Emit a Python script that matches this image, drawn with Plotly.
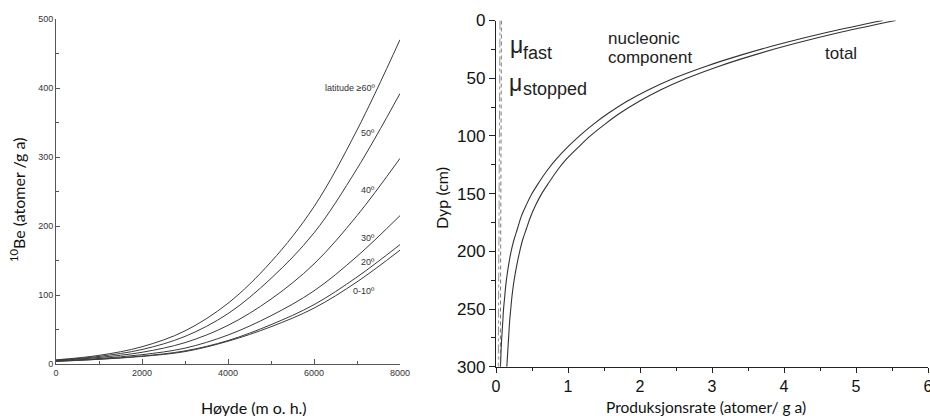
import plotly.graph_objects as go

# ---------------- data: left panel ----------------
altitude = [0, 1000, 2000, 3000, 4000, 5000, 6000, 7000, 8000]
lat_60 = [6, 12.5, 25, 48, 88, 148, 228, 339, 470]
lat_50 = [5.5, 11, 21, 40, 73, 124, 190, 283, 392]
lat_40 = [5, 9.5, 17, 31, 56, 94, 145, 215, 298]
lat_30 = [4.5, 8, 13.5, 23, 42, 70, 106, 156, 215]
lat_20 = [4, 7, 11.5, 19, 34, 57, 86, 126, 173]
lat_0_10 = [3.8, 6.8, 11, 18, 33, 54, 81, 119, 165]
lat_labels = ["latitude ≥60º", "50º", "40º", "30º", "20º", "0-10º"]

# ---------------- data: right panel ----------------
depth = [0, 10, 20, 30, 40, 50, 60, 70, 80, 90, 100, 110, 120, 130, 140, 150,
         160, 170, 180, 190, 200, 210, 220, 230, 240, 250, 260, 270, 280, 290, 300]
nucleonic = [5.37, 4.62, 3.97, 3.40, 2.90, 2.47, 2.12, 1.82, 1.57, 1.35, 1.16, 0.99, 0.84, 0.71, 0.60, 0.50,
             0.42, 0.35, 0.30, 0.25, 0.21, 0.18, 0.155, 0.135, 0.12, 0.105, 0.095, 0.085, 0.075, 0.068, 0.062]
total = [5.55, 4.80, 4.15, 3.58, 3.08, 2.65, 2.29, 1.99, 1.73, 1.51, 1.31, 1.14, 0.98, 0.85, 0.74, 0.635,
         0.55, 0.48, 0.425, 0.37, 0.33, 0.295, 0.265, 0.24, 0.22, 0.205, 0.19, 0.18, 0.17, 0.16, 0.15]
mu_depth = [0, 100, 200, 300]
mu_fast = [0.075, 0.07, 0.065, 0.06]
mu_stopped = [0.055, 0.045, 0.037, 0.032]

W, H = 930, 416
def px(x):
    return x / W
def py(y):
    return 1 - y / H

fig = go.Figure()
LC = "#3a3a3a"
for ys in [lat_60, lat_50, lat_40, lat_30, lat_20, lat_0_10]:
    fig.add_trace(go.Scatter(x=altitude, y=ys, mode="lines",
                             line=dict(color=LC, width=1, shape="spline", smoothing=1.0),
                             xaxis="x", yaxis="y", showlegend=False, hoverinfo="skip"))

for series in [nucleonic, total]:
    fig.add_trace(go.Scatter(x=series, y=depth, mode="lines",
                             line=dict(color="#333", width=1.1, shape="spline", smoothing=1.0),
                             xaxis="x2", yaxis="y2", showlegend=False))
fig.add_trace(go.Scatter(x=mu_fast, y=mu_depth, mode="lines",
                         line=dict(color="#555", width=0.8, dash="4px,3px"),
                         xaxis="x2", yaxis="y2", showlegend=False))
fig.add_trace(go.Scatter(x=mu_stopped, y=mu_depth, mode="lines",
                         line=dict(color="#777", width=0.8, dash="dashdot"),
                         xaxis="x2", yaxis="y2", showlegend=False))

ldom_x = [px(56), px(400)]
ldom_y = [py(364), py(19)]
rdom_x = [px(496), px(928)]
rdom_y = [py(366.7), py(20.5)]

gray = "#555"
common_l = dict(showgrid=False, zeroline=False, showline=True, linecolor=gray, linewidth=1,
                automargin=False,
                tickcolor=gray, tickfont=dict(family="Liberation Sans", size=9, color="#333"))
common_r = dict(showgrid=False, zeroline=False, showline=True, linecolor="#222", linewidth=1.3,
                automargin=False,
                tickcolor="#222", tickfont=dict(family="Liberation Sans", size=17, color="#111"))

fig.update_layout(
    width=W, height=H, margin=dict(l=0, r=0, t=0, b=0, autoexpand=False),
    paper_bgcolor="white", plot_bgcolor="white",
    xaxis=dict(domain=ldom_x, anchor="y", range=[0, 8000], tickvals=[0, 2000, 4000, 6000, 8000],
               ticks="inside", ticklen=5,
               minor=dict(dtick=1000, ticks="inside", ticklen=3, tickcolor=gray), **common_l),
    yaxis=dict(domain=ldom_y, anchor="x", range=[0, 500], dtick=100,
               ticks="inside", ticklen=4,
               minor=dict(dtick=50, ticks="inside", ticklen=3, tickcolor=gray), **common_l),
    xaxis3=dict(overlaying="x", anchor="y", side="top", range=[0, 8000], dtick=800,
                ticks="inside", ticklen=4, showticklabels=False, **common_l),
    yaxis3=dict(overlaying="y", anchor="x", side="right", range=[0, 500], dtick=50,
                ticks="inside", ticklen=4, showticklabels=False, **common_l),
    xaxis2=dict(domain=rdom_x, anchor="y2", range=[0, 6], dtick=1, ticks="outside", ticklen=5,
                ticklabeloverflow="allow",
                minor=dict(dtick=0.5, ticks="outside", ticklen=3, tickcolor="#222"), **common_r),
    yaxis2=dict(domain=rdom_y, anchor="x2", range=[300, 0], dtick=50, ticks="outside", ticklen=6,
                minor=dict(dtick=25, ticks="outside", ticklen=4, tickcolor="#222"), **common_r),
    xaxis4=dict(overlaying="x2", anchor="y2", side="top", range=[0, 6], dtick=0.5,
                ticks="inside", ticklen=5, showticklabels=False, **common_r),
    yaxis4=dict(overlaying="y2", anchor="x2", side="right", range=[300, 0], dtick=25,
                ticks="inside", ticklen=5, showticklabels=False, **common_r),
)
fig.update_xaxes(tickfont=dict(size=16), selector=dict(anchor="y2"))

ann = []
def add(text, x, y, font, xanchor="center", yanchor="middle", angle=0):
    ann.append(dict(text=text, x=px(x), y=py(y), xref="paper", yref="paper",
                    xanchor=xanchor, yanchor=yanchor, textangle=angle,
                    showarrow=False, font=font))

title_font = dict(family="Lato", size=16, color="#111")
add("Høyde (m o. h.)", 254, 407, title_font)
add("<sup>10</sup>Be (atomer /g a)", 17, 200, title_font, angle=-90)
add("Produksjonsrate (atomer/ g a)", 706, 407, dict(family="Lato", size=15.5, color="#111"))
add("Dyp (cm)", 441, 198, title_font, angle=-90)

lab_y = [88, 133, 190, 238, 262, 291]
labf = dict(family="Liberation Sans Narrow, Liberation Sans", size=9, color="#333")
for t, yy in zip(lat_labels, lab_y):
    add(t, 377, yy, labf, xanchor="right")

rf = dict(family="Liberation Sans", size=17, color="#222")
add("nucleonic", 606, 38, rf, xanchor="left")
add("component", 606, 57, rf, xanchor="left")
add("total", 841, 53, rf)
muf = dict(family="Liberation Sans", size=23, color="#222")
subf = dict(family="Liberation Sans", size=18, color="#222")
add("μ", 516, 45, muf)
add("fast", 521, 53, subf, xanchor="left")
add("μ", 515, 83, muf)
add("stopped", 521, 89, subf, xanchor="left")

fig.update_layout(annotations=ann)
fig.write_html("out.html")
